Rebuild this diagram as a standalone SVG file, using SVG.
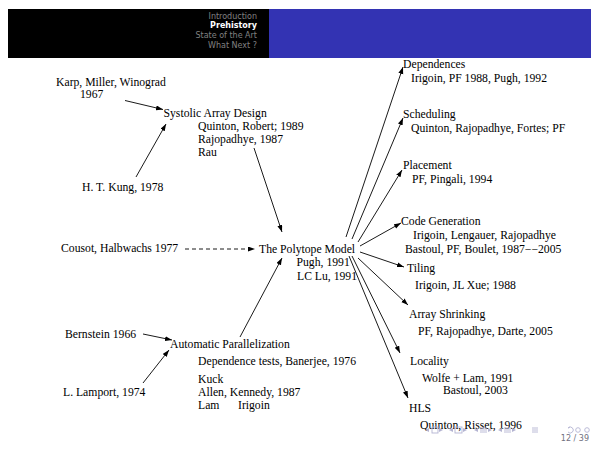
<svg xmlns="http://www.w3.org/2000/svg" width="591" height="450" viewBox="0 0 591 450">
<style>
.t{font-family:"Liberation Serif","Times New Roman",serif;font-size:11.7px;fill:#000}
.h{font-family:"DejaVu Sans",sans-serif;font-size:8px;fill:#808080;text-anchor:end}
.e{stroke:#000;stroke-width:0.9;fill:none;marker-end:url(#ah)}
.nav{fill:#b4b4d2;stroke:none}
.navs{stroke:#b4b4d2;stroke-width:0.9;fill:none}
</style>
<defs>
<marker id="ah" markerUnits="userSpaceOnUse" markerWidth="8" markerHeight="6" refX="7" refY="2.5" orient="auto">
<path d="M0,0 L7,2.5 L0,5 Z" fill="#000"/>
</marker>
</defs>
<rect width="591" height="450" fill="#fff"/>
<g id="header">
<rect x="8" y="9" width="261" height="49" fill="#000"/>
<rect x="269" y="9" width="322" height="49" fill="#3333b3"/>
<text class="h" x="257" y="18.5">Introduction</text>
<text class="h" x="257" y="28.2" style="fill:#fff;font-weight:bold">Prehistory</text>
<text class="h" x="257" y="37.9">State of the Art</text>
<text class="h" x="257" y="47.6">What Next ?</text>
</g>
<g id="connectors">
<line class="e" x1="125" y1="100.5" x2="163" y2="109.5"/>
<line class="e" x1="136" y1="177" x2="166" y2="124"/>
<line class="e" x1="254" y1="148" x2="282" y2="232"/>
<line class="e" x1="185" y1="249" x2="255" y2="249" stroke-dasharray="4,3"/>
<line class="e" x1="240" y1="337" x2="282" y2="258"/>
<line class="e" x1="143" y1="334" x2="172" y2="340"/>
<line class="e" x1="143" y1="383" x2="169" y2="350"/>
<line class="e" x1="346" y1="237" x2="403" y2="67"/>
<line class="e" x1="352" y1="239" x2="403" y2="118"/>
<line class="e" x1="358" y1="242" x2="402" y2="170"/>
<line class="e" x1="360" y1="246" x2="401" y2="223"/>
<line class="e" x1="360" y1="252" x2="404" y2="267"/>
<line class="e" x1="358" y1="258" x2="408" y2="305"/>
<line class="e" x1="352" y1="256" x2="400" y2="353"/>
<line class="e" x1="349" y1="256" x2="408" y2="398"/>
</g>
<g id="karp"><text class="t" x="56" y="85.5">Karp, Miller, Winograd</text><text class="t" x="80" y="98">1967</text></g>
<g id="systolic">
<text class="t" x="163.5" y="116.5">Systolic Array Design</text>
<text class="t" x="198" y="129.5">Quinton, Robert; 1989</text>
<text class="t" x="198" y="142.5">Rajopadhye, 1987</text>
<text class="t" x="198" y="155.5">Rau</text>
</g>
<g id="kung"><text class="t" x="82" y="190.5">H. T. Kung, 1978</text></g>
<g id="cousot"><text class="t" x="61" y="252">Cousot, Halbwachs 1977</text></g>
<g id="polytope">
<text class="t" x="259" y="252.5">The Polytope Model</text>
<text class="t" x="296.5" y="266">Pugh, 1991</text>
<text class="t" x="297" y="279.5">LC Lu, 1991</text>
</g>
<g id="bernstein"><text class="t" x="65" y="338">Bernstein 1966</text></g>
<g id="autopar">
<text class="t" x="170" y="348">Automatic Parallelization</text>
<text class="t" x="198" y="365">Dependence tests, Banerjee, 1976</text>
<text class="t" x="198" y="383">Kuck</text>
<text class="t" x="198" y="396">Allen, Kennedy, 1987</text>
<text class="t" x="198" y="409">Lam</text>
<text class="t" x="238" y="409">Irigoin</text>
</g>
<g id="lamport"><text class="t" x="63" y="396">L. Lamport, 1974</text></g>
<g id="dependences"><text class="t" x="403" y="67.5">Dependences</text><text class="t" x="411" y="81.5">Irigoin, PF 1988, Pugh, 1992</text></g>
<g id="scheduling"><text class="t" x="403" y="118">Scheduling</text><text class="t" x="411" y="132">Quinton, Rajopadhye, Fortes; PF</text></g>
<g id="placement"><text class="t" x="403" y="169">Placement</text><text class="t" x="412" y="182.5">PF, Pingali, 1994</text></g>
<g id="codegen">
<text class="t" x="401" y="225">Code Generation</text>
<text class="t" x="413" y="238.5">Irigoin, Lengauer, Rajopadhye</text>
<text class="t" x="405" y="252.5">Bastoul, PF, Boulet, 1987−−2005</text>
</g>
<g id="tiling"><text class="t" x="407" y="271.5">Tiling</text><text class="t" x="415" y="289">Irigoin, JL Xue; 1988</text></g>
<g id="shrinking"><text class="t" x="409" y="318">Array Shrinking</text><text class="t" x="418" y="335">PF, Rajopadhye, Darte, 2005</text></g>
<g id="locality">
<text class="t" x="410" y="365">Locality</text>
<text class="t" x="422" y="381.5">Wolfe + Lam, 1991</text>
<text class="t" x="443" y="393.5">Bastoul, 2003</text>
</g>
<g id="hls"><text class="t" x="409" y="411.5">HLS</text><text class="t" x="420" y="429">Quinton, Risset, 1996</text></g>
<g id="nav">
<path class="nav" d="M425,430 L429,428 L429,432 Z"/>
<rect class="navs" x="432" y="427" width="6" height="6"/>
<path class="nav" d="M443,430 L439,428 L439,432 Z"/>
<path class="nav" d="M449,430 L453,428 L453,432 Z"/>
<rect class="navs" x="455" y="427" width="7" height="6"/>
<path class="nav" d="M467,430 L463,428 L463,432 Z"/>
<path class="nav" d="M474,430 L478,428 L478,432 Z"/>
<path class="navs" d="M480,428 h7 M480,430 h7 M480,432 h7"/>
<path class="nav" d="M492,430 L488,428 L488,432 Z"/>
<path class="nav" d="M498,430 L502,428 L502,432 Z"/>
<path class="navs" d="M504,428 h7 M504,430 h7 M504,432 h7"/>
<path class="nav" d="M516,430 L512,428 L512,432 Z"/>
<path class="navs" d="M532,428 h6 M532,430 h6 M532,432 h6"/>
<path class="navs" d="M568,428 a3,3 0 1 1 0,4 M568,428 l2,-1"/>
<circle class="navs" cx="578" cy="430" r="2.3"/>
<circle class="navs" cx="587" cy="430" r="2.3"/>
</g>
<g id="page"><text x="589" y="441" style="font-family:'DejaVu Sans',sans-serif;font-size:8px;fill:#707080;text-anchor:end">12 / 39</text></g>
</svg>
